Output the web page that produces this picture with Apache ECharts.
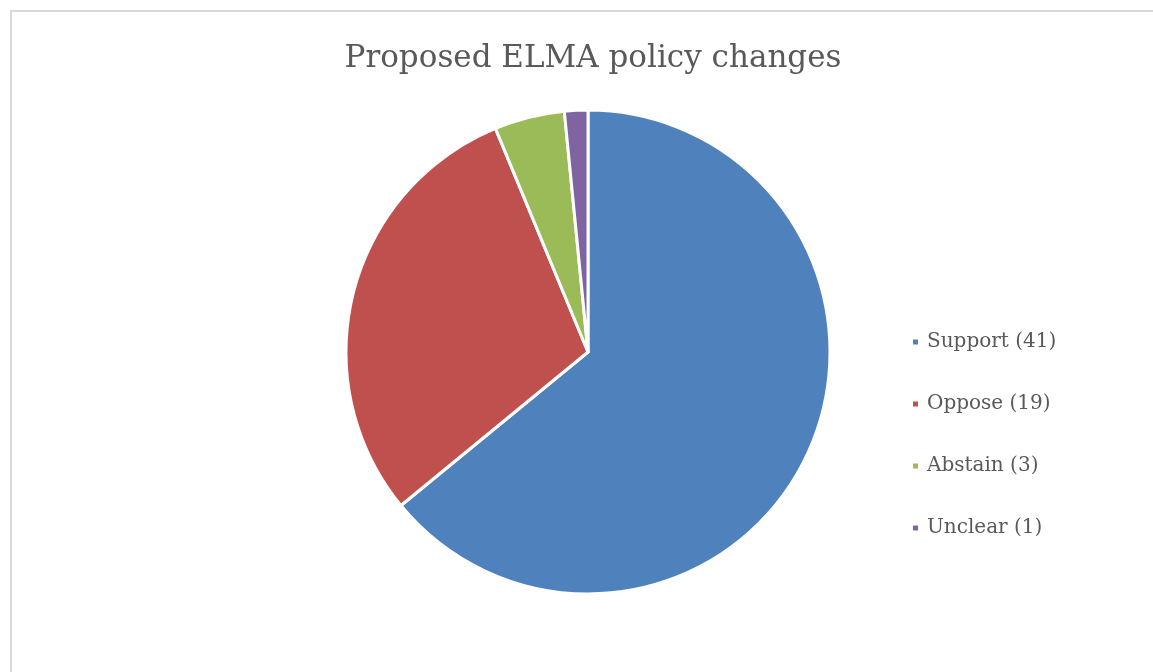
<!DOCTYPE html>
<html>
<head>
<meta charset="utf-8">
<script src="https://cdn.jsdelivr.net/npm/echarts@6/dist/echarts.min.js"></script>
<style>
    html, body { margin: 0; padding: 0; background: #fff; }
    #main { width: 1153px; height: 672px; }
</style>
</head>
<body>
<div id="main"></div>
<script>
var categories = ['Support (41)', 'Oppose (19)', 'Abstain (3)', 'Unclear (1)'];
var votes = [41, 19, 3, 1];
var colors = ['#4F81BD', '#C0504D', '#9BBB59', '#8064A2'];

var pieData = [];
for (var i = 0; i < categories.length; i++) {
    pieData.push({ name: categories[i], value: votes[i] });
}

var myChart = echarts.init(document.getElementById('main'));
var option = {
    animation: false,
    color: colors,
    title: {
        text: 'Proposed ELMA policy changes',
        left: 588,
        textAlign: 'center',
        top: 38,
        textStyle: {
            fontFamily: 'DejaVu Serif',
            fontSize: 31,
            fontWeight: 'normal',
            color: '#595959'
        }
    },
    legend: {
        orient: 'vertical',
        left: 911,
        top: 331,
        padding: 0,
        icon: 'rect',
        itemWidth: 7,
        itemHeight: 7,
        itemGap: 40,
        selectedMode: false,
        textStyle: {
            fontFamily: 'DejaVu Serif',
            fontSize: 20,
            lineHeight: 22,
            color: '#595959',
            padding: [0, 0, 0, 3]
        },
        data: categories
    },
    graphic: [{
        type: 'rect',
        shape: { x: 11, y: 11, width: 1200, height: 720 },
        style: { fill: 'none', stroke: '#d9d9d9', lineWidth: 2 },
        silent: true
    }],
    series: [{
        type: 'pie',
        center: [588, 352],
        radius: [0, 242],
        startAngle: 90,
        clockwise: true,
        label: { show: false },
        labelLine: { show: false },
        emphasis: { disabled: true },
        itemStyle: { borderColor: '#fff', borderWidth: 3 },
        data: pieData
    }]
};
myChart.setOption(option);
</script>
</body>
</html>
